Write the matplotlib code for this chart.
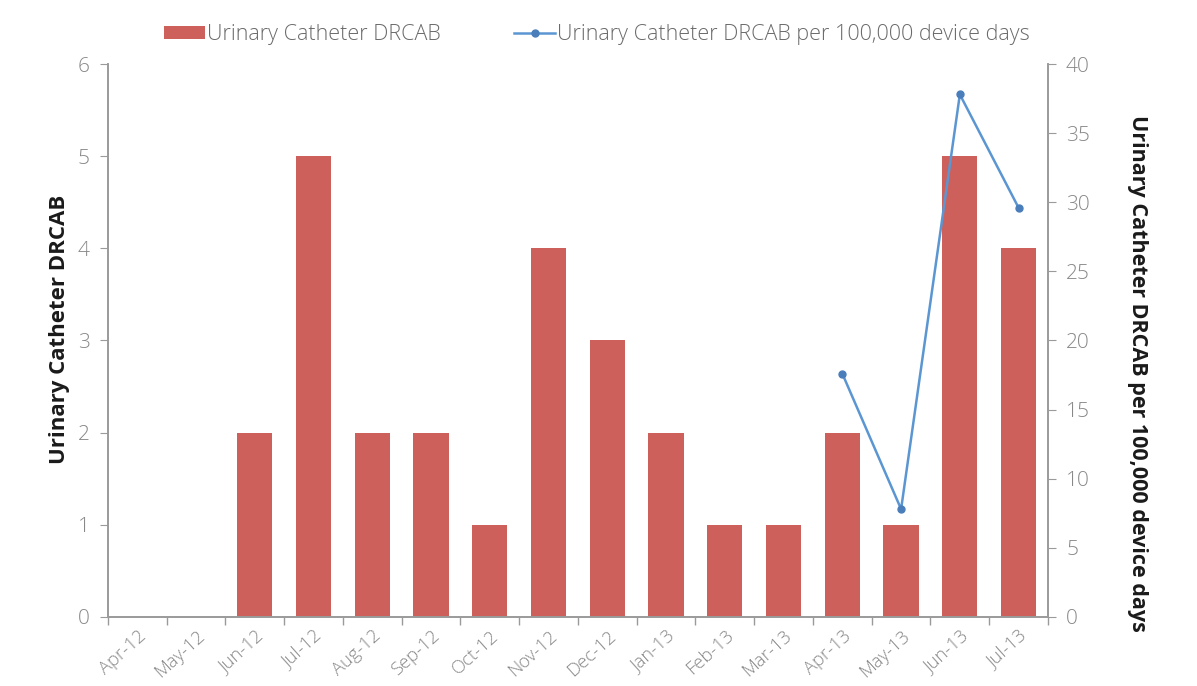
import matplotlib
matplotlib.use("Agg")
import matplotlib.pyplot as plt
import numpy as np
from matplotlib.ticker import FixedLocator, NullFormatter

months = ["Apr-12", "May-12", "Jun-12", "Jul-12", "Aug-12", "Sep-12", "Oct-12", "Nov-12",
          "Dec-12", "Jan-13", "Feb-13", "Mar-13", "Apr-13", "May-13", "Jun-13", "Jul-13"]
drcab = [0, 0, 2, 5, 2, 2, 1, 4, 3, 2, 1, 1, 2, 1, 5, 4]
rate_months = ["Apr-13", "May-13", "Jun-13", "Jul-13"]
rate = [17.6, 7.8, 37.8, 29.6]

plt.rcParams['font.family'] = ['Open Sans', 'DejaVu Sans']

bar_color = "#CD605A"
line_color = "#5B96D2"
marker_color = "#4A7EBB"
axis_color = "#9A9A9A"
text_color = "#888888"

fig = plt.figure(figsize=(11.97, 6.86), dpi=100)
ax = fig.add_axes([0.0902, 0.1006, 0.7853, 0.8061])
ax2 = ax.twinx()

x = np.arange(len(months))
ax.bar(x, drcab, width=0.6, color=bar_color, label="Urinary Catheter DRCAB", zorder=2)
xr = [months.index(m) for m in rate_months]
ax2.plot(xr, rate, color=line_color, lw=1.8, marker="o", ms=5,
         markerfacecolor=marker_color, markeredgecolor=marker_color,
         label="Urinary Catheter DRCAB per 100,000 device days", zorder=3)

ax.set_xlim(-0.5, len(months) - 0.5)
ax.set_ylim(0, 6)
ax2.set_ylim(0, 40)
ax.set_yticks(range(0, 7))
ax2.set_yticks(range(0, 41, 5))

ax.set_xticks(x)
ax.set_xticklabels(months, rotation=42, ha="right", rotation_mode="anchor",
                   color=text_color, fontsize=13.2, fontweight="light")
ax.tick_params(axis="x", which="major", length=0, pad=7)
ax.xaxis.set_minor_locator(FixedLocator(np.arange(-0.5, len(months), 1)))
ax.xaxis.set_minor_formatter(NullFormatter())
ax.tick_params(axis="x", which="minor", length=6, color=axis_color, width=1)

ax.tick_params(axis="y", length=6, color=axis_color, labelcolor=text_color, labelsize=15, pad=7)
ax2.tick_params(axis="y", length=6, color=axis_color, labelcolor=text_color, labelsize=15, pad=7)
for lab in ax.get_yticklabels() + ax2.get_yticklabels():
    lab.set_fontweight("light")

for a in (ax, ax2):
    a.spines["top"].set_visible(False)
    for s in ("left", "right", "bottom"):
        a.spines[s].set_color(axis_color)
        a.spines[s].set_linewidth(1.2)

ax.set_ylabel("Urinary Catheter DRCAB", fontsize=16, fontweight="bold", color="#1a1a1a")
ax.yaxis.set_label_coords(-0.052, 0.52)
ax.yaxis.label.set_verticalalignment("center")
ax.yaxis.label.set_horizontalalignment("center")

ax2.set_ylabel("Urinary Catheter DRCAB per 100,000 device days", fontsize=15.5, fontweight="bold",
               color="#1a1a1a", rotation=270)
ax2.yaxis.set_label_coords(1.0957, 0.44)
ax2.yaxis.label.set_verticalalignment("center")
ax2.yaxis.label.set_horizontalalignment("center")

h1, l1 = ax.get_legend_handles_labels()
h2, l2 = ax2.get_legend_handles_labels()
leg = fig.legend(h1 + h2, l1 + l2, loc="upper center", bbox_to_anchor=(0.499, 0.993), ncol=2,
                 frameon=False, fontsize=15.5, handlelength=1.9, handleheight=0.5,
                 handletextpad=0.1, columnspacing=3.4)
for t in leg.get_texts():
    t.set_color("#6a6a6a")
    t.set_fontweight("light")

fig.savefig("out.png", dpi=100)
